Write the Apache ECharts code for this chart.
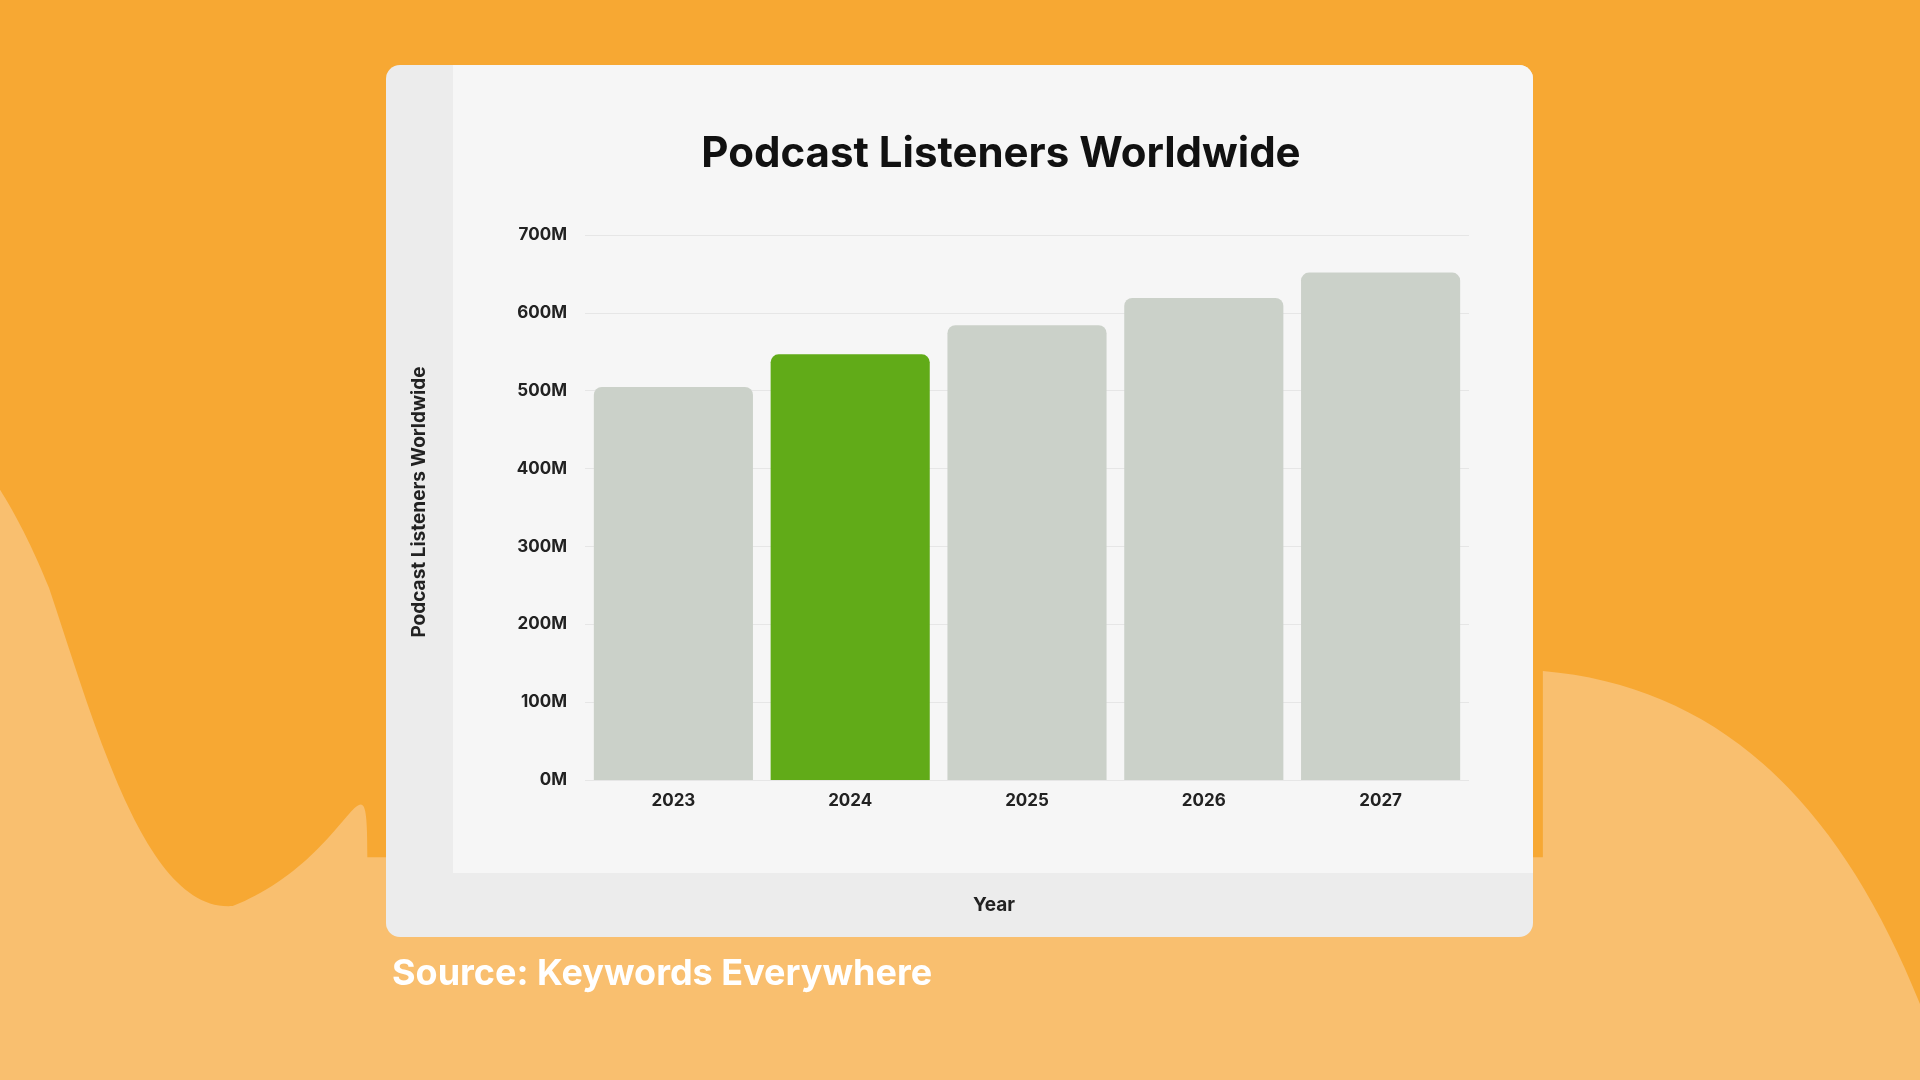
<!DOCTYPE html>
<html><head><meta charset="utf-8">
<script src="https://cdn.jsdelivr.net/npm/echarts@6/dist/echarts.min.js"></script>
<style>html,body{margin:0;padding:0;background:#f9bf6f}#c{width:1920px;height:1080px;position:absolute;left:0;top:0}#bg{position:absolute;left:0;top:0}</style>
</head><body>
<svg id="bg" width="1920" height="1080" viewBox="0 0 1568 882"><path d="M0,0 L1568,0 L1568,820 C1500,650 1400,560 1260,548 L1260,700 L300,700 C300,600 290,700 190,740 C120,745 80,600 40,480 C20,430 0,400 0,400 Z" fill="#f7a833"/></svg>
<div id="c"></div>
<script>
const years = ['2023','2024','2025','2026','2027'];
const listeners = [504.9, 546.7, 584.1, 619.2, 651.7];
const highlightYear = '2024';
const yTicks = [0,100,200,300,400,500,600,700];

const chart = echarts.init(document.getElementById('c'));
const F = 'Inter, "Noto Sans", sans-serif';
chart.setOption({
  backgroundColor: 'transparent',
  title: {text:'Podcast Listeners Worldwide', left:996, top:128, textAlign:'center',
    textStyle:{fontFamily:F, fontSize:42, fontWeight:'bold', color:'#111'}},
  graphic: [
    {type:'rect', z:-5, shape:{x:386,y:65,width:1147,height:872,r:14}, style:{fill:'#ececec'}},
    {type:'rect', z:-4, shape:{x:453,y:65,width:1080,height:808,r:[0,14,0,0]}, style:{fill:'#f6f6f6'}},
    {type:'text', left:392, top:956, style:{text:'Source: Keywords Everywhere', font:'bold 36px '+F, fill:'#fff'}},
    {type:'text', left:973, top:896, style:{text:'Year', font:'bold 19px '+F, fill:'#222'}},
    {type:'text', x:419, y:502, rotation:Math.PI/2, style:{text:'Podcast Listeners Worldwide', font:'bold 19px '+F, fill:'#222', align:'center', verticalAlign:'middle'}}
  ],
  grid:{left:585, right:1920-1469, top:235, bottom:1080-780},
  xAxis:{type:'category', data:years, axisLine:{show:false}, axisTick:{show:false},
    axisLabel:{fontFamily:F, fontSize:17, fontWeight:'bold', color:'#222', margin:12}},
  yAxis:{type:'value', min:0, max:700, interval:100,
    axisLabel:{formatter:v=>v+'M', fontFamily:F, fontSize:17, fontWeight:'bold', color:'#222', margin:18},
    splitLine:{lineStyle:{color:'#e6e6e6'}}},
  series:[{type:'bar', barCategoryGap:'10%',
    data: listeners.map((v,i)=>({value:v, itemStyle:{color: years[i]===highlightYear?'#61ab18':'#cbd1c9'}})),
    itemStyle:{borderRadius:[8,8,0,0]}}]
});
</script></body></html>
